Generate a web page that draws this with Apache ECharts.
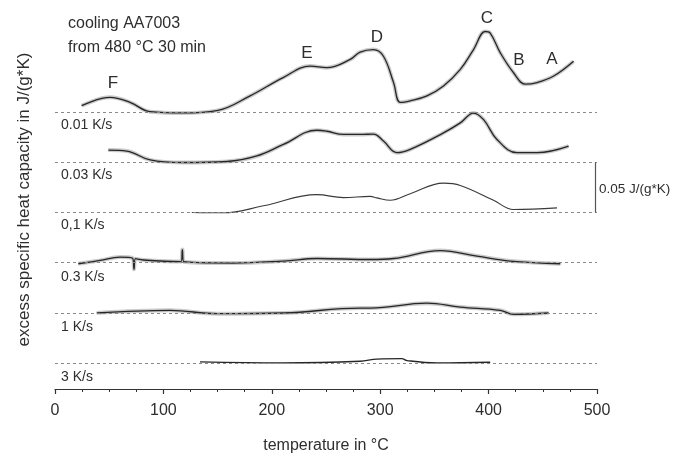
<!DOCTYPE html>
<html>
<head>
<meta charset="utf-8">
<script src="https://cdn.jsdelivr.net/npm/echarts@6/dist/echarts.min.js"></script>
<style>html,body{margin:0;padding:0;background:#fff}#c{width:674px;height:459px}</style>
</head>
<body>
<div id="c"></div>
<script>
// Cooling rates and their vertical offsets (J/(g*K))
const rates = ['0.01 K/s', '0.03 K/s', '0,1 K/s', '0.3 K/s', '1 K/s', '3 K/s'];
const offsets = [0.25, 0.20, 0.15, 0.10, 0.05, 0.00];
const xTicks = [0, 100, 200, 300, 400, 500];

// 0.01 K/s
const t001 = [24.6, 50.8, 69.2, 87.7, 118.2, 149.3, 180, 210.5, 235.4, 250.8, 272.3, 281.5, 293.8, 303, 312.3, 318.5, 327.7, 343.1, 358.4, 373.9, 386.1, 396.9, 401.5, 410.8, 423, 433.9, 444.7, 460, 478.4];
const v001 = [0.0062, 0.0145, 0.0095, 0.0003, -0.001, 0.0013, 0.016, 0.0342, 0.0456, 0.044, 0.0522, 0.0595, 0.062, 0.0554, 0.0292, 0.0095, 0.0111, 0.016, 0.0259, 0.0423, 0.062, 0.080, 0.0784, 0.0588, 0.039, 0.0276, 0.0292, 0.0357, 0.0505];
// 0.03 K/s
const t003 = [49.2, 66.2, 87.7, 118.4, 158.5, 186.2, 210.7, 241.6, 250.8, 266.1, 281.5, 293.8, 303, 315.4, 327.7, 358.4, 373.9, 386.1, 395.4, 407.7, 426.2, 444.7, 473.8];
const v003 = [0.0121, 0.0111, 0.0023, -0.0003, 0.0007, 0.0062, 0.0177, 0.0318, 0.0308, 0.0276, 0.0276, 0.028, 0.021, 0.0095, 0.0128, 0.0292, 0.0391, 0.0489, 0.0423, 0.0226, 0.0095, 0.0095, 0.016];
// 0.1 K/s
const t01 = [126.2, 155.4, 192.3, 241.6, 266.1, 290.8, 297, 309.2, 327.7, 358.4, 373.9, 404.6, 423, 463.1];
const v01 = [0, -0.0003, 0.0066, 0.0177, 0.0148, 0.016, 0.0145, 0.0121, 0.0187, 0.0292, 0.0269, 0.0121, 0.003, 0.0046];
// 0.3 K/s
const t03 = [21.5, 41.5, 60, 71.6, 72.9, 74.2, 81.5, 116.3, 117.5, 118.7, 164.6, 210.7, 241.6, 290.8, 312.3, 355.4, 389.3, 420, 466.2];
const v03 = [-0.001, 0.0023, 0.0056, 0.0045, -0.0066, 0.0040, 0.0027, 0.0012, 0.0131, 0.001, -0.0003, 0.0017, 0.0042, 0.0032, 0.0042, 0.0121, 0.0066, 0.0017, -0.001];
// 1 K/s
const t1 = [38.5, 106.2, 149.3, 210.7, 281.5, 290.8, 343.1, 373.9, 410.8, 423, 455.4];
const v1 = [0, 0.0027, -0.0007, 0, 0.0049, 0.0049, 0.0098, 0.0059, 0.0027, -0.0013, 0];
// 3 K/s
const t3 = [133.8, 210.7, 281.5, 297, 320, 324.7, 352.3, 401.5];
const v3 = [0.0013, 0.0003, 0.002, 0.0042, 0.0046, 0.0027, 0.0003, 0.001];

const temps = [t001, t003, t01, t03, t1, t3];
const vals = [v001, v003, v01, v03, v1, v3];
const banded = [true, true, false, true, true, false];

const FONT = '"Liberation Sans", Arial, Helvetica, sans-serif';
const TXT = '#2e2e2e';

const series = [];
rates.forEach((r, k) => {
  const data = temps[k].map((t, i) => [t, vals[k][i] + offsets[k]]);
  if (banded[k]) {
    series.push({
      type: 'line', name: r + ' band', data: data, smooth: 0.4, showSymbol: false, silent: true,
      lineStyle: { color: '#cbcbcb', width: 4 }, z: 1
    });
  }
  series.push({
    type: 'line', name: r, data: data, smooth: 0.4, showSymbol: false, silent: true,
    lineStyle: { color: k === 2 ? '#3a3a3a' : '#262626', width: k === 2 ? 1.1 : 1.3 }, z: 3
  });
});
// dashed baselines + scale bar
series.push({
  type: 'line', data: [], silent: true,
  markLine: {
    silent: true, symbol: 'none', label: { show: false },
    lineStyle: { color: '#8a8a8a', type: [3, 3], width: 1 },
    data: offsets.map(o => ({ yAxis: o }))
  }
});
series.push({
  type: 'line', data: [], silent: true,
  markLine: {
    silent: true, symbol: 'none', label: { show: false },
    lineStyle: { color: '#555', type: 'solid', width: 1.2 },
    data: [[{ coord: [498.5, offsets[2]] }, { coord: [498.5, offsets[1]] }]]
  }
});

const letters = [['F', 113, 83], ['E', 307, 53], ['D', 377, 37], ['C', 487, 18], ['B', 519, 60], ['A', 552, 59]];
const rateLabelY = [125, 175, 225, 277, 327, 377];

const graphic = [
  { type: 'text', left: 68, top: 16, style: { text: 'cooling AA7003', font: '16px ' + FONT, fill: TXT } },
  { type: 'text', left: 68, top: 40, style: { text: 'from 480 °C 30 min', font: '16px ' + FONT, fill: TXT } },
  { type: 'text', left: 599, top: 182, style: { text: '0.05 J/(g*K)', font: '13.5px ' + FONT, fill: TXT } }
];
letters.forEach(l => graphic.push({ type: 'text', x: l[1], y: l[2], style: { text: l[0], font: '17px ' + FONT, fill: TXT, align: 'center', verticalAlign: 'middle' } }));
rates.forEach((r, k) => graphic.push({ type: 'text', x: 61, y: rateLabelY[k], style: { text: r, font: '14px ' + FONT, fill: TXT, align: 'left', verticalAlign: 'middle' } }));

const chart = echarts.init(document.getElementById('c'), null, { renderer: 'canvas' });
chart.setOption({
  animation: false,
  backgroundColor: '#fff',
  grid: { left: 55, right: 77, top: 10, bottom: 66 },
  xAxis: {
    type: 'value', min: xTicks[0], max: xTicks[xTicks.length - 1], interval: 100,
    name: 'temperature in °C', nameLocation: 'middle', nameGap: 49,
    nameTextStyle: { fontFamily: FONT, fontSize: 16, color: TXT },
    axisLine: { onZero: false, lineStyle: { color: '#333', width: 1.2 } },
    axisTick: { length: 5, lineStyle: { color: '#333', width: 1.2 } },
    minorTick: { show: true, splitNumber: 4, length: 3, lineStyle: { color: '#333', width: 1 } },
    axisLabel: { fontFamily: FONT, fontSize: 16, color: TXT, margin: 14 },
    splitLine: { show: false }
  },
  yAxis: {
    type: 'value', min: -0.0256, max: 0.3514,
    name: 'excess specific heat capacity in J/(g*K)', nameLocation: 'middle', nameGap: 22,
    nameTextStyle: { fontFamily: FONT, fontSize: 17, color: TXT },
    axisLine: { show: false }, axisTick: { show: false }, axisLabel: { show: false }, splitLine: { show: false }
  },
  graphic: graphic,
  series: series
});
</script>
</body>
</html>
